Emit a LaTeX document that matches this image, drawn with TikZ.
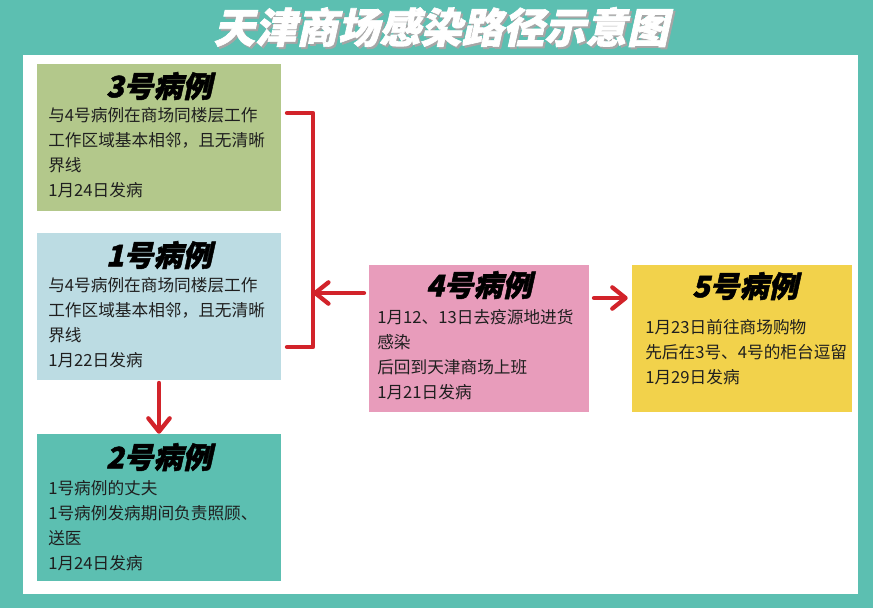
\documentclass[tikz,border=0pt]{standalone}
\usepackage{fontspec}
\setmainfont{Noto Sans CJK SC}
\newfontfamily\headfont{Noto Sans CJK SC}[FakeSlant=0.22, BoldFeatures={FakeBold=1.6}]
\usetikzlibrary{arrows.meta}
\definecolor{bgteal}{HTML}{5CBFB1}
\definecolor{boxgreen}{HTML}{B3C88B}
\definecolor{boxblue}{HTML}{BCDCE3}
\definecolor{boxpink}{HTML}{E89CBB}
\definecolor{boxyellow}{HTML}{F2D24B}
\definecolor{mkred}{HTML}{D2232A}
\begin{document}
\begin{tikzpicture}[x=0.75pt, y=-0.75pt,
  casebox/.style={rectangle, inner sep=0pt, minimum height=110.25pt},
  casetitle/.style={font=\headfont\bfseries\fontsize{22pt}{22pt}\selectfont, text=black},
  casebody/.style={anchor=north west, inner sep=0pt, align=left, font=\fontsize{12.5pt}{18.75pt}\selectfont, text=black!88},
  redline/.style={draw=mkred, line width=3.2pt, line cap=round, line join=round},
  redarrow/.style={redline, -{Straight Barb[length=10pt, width=16pt, round]}}]
  \useasboundingbox (0,0) rectangle (873,608);
  \fill[bgteal] (0,0) rectangle (873,608);
  \fill[white] (23,55) rectangle (858,594);
  \node[font=\headfont\bfseries\fontsize{31pt}{31pt}\selectfont, text=black!35] (titleshade) at (443,29) {天津商场感染路径示意图};
  \node[font=\headfont\bfseries\fontsize{31pt}{31pt}\selectfont, text=white] (title) at (441,27) {天津商场感染路径示意图};
  % case boxes
  \node[casebox, fill=boxgreen, minimum width=183pt] (c3) at (159,137.5) {};
  \node[casebox, fill=boxblue, minimum width=183pt] (c1) at (159,306.5) {};
  \node[casebox, fill=bgteal, minimum width=183pt] (c2) at (159,507.5) {};
  \node[casebox, fill=boxpink, minimum width=165pt] (c4) at (479,338.5) {};
  \node[casebox, fill=boxyellow, minimum width=165pt] (c5) at (742,338.5) {};
  \node[casetitle] (c3t) at (159,86) {3号病例};
  \node[casetitle] (c1t) at (159,255) {1号病例};
  \node[casetitle] (c2t) at (159,457) {2号病例};
  \node[casetitle] (c4t) at (479,285) {4号病例};
  \node[casetitle] (c5t) at (745,286) {5号病例};
  \node[casebody] (c3b) at (48,107) {与4号病例在商场同楼层工作\\工作区域基本相邻，且无清晰\\界线\\1月24日发病};
  \node[casebody] (c1b) at (48,277) {与4号病例在商场同楼层工作\\工作区域基本相邻，且无清晰\\界线\\1月22日发病};
  \node[casebody] (c2b) at (48,480) {1号病例的丈夫\\1号病例发病期间负责照顾、\\送医\\1月24日发病};
  \node[casebody] (c4b) at (377,309) {1月12、13日去疫源地进货\\感染\\后回到天津商场上班\\1月21日发病};
  \node[casebody] (c5b) at (645,319) {1月23日前往商场购物\\先后在3号、4号的柜台逗留\\1月29日发病};
  % connectors
  \coordinate (k3) at (287,113);
  \coordinate (k1) at (287,347);
  \coordinate (kj) at (313,293);
  \coordinate (a4) at (364,293);
  \coordinate (a45) at (594,298);
  \draw[redline] (k3) -- (k3 -| kj) -- (k1 -| kj) -- (k1);
  \draw[redarrow] (a4) -- (kj);
  \draw[redarrow, shorten >=3pt] (a45) -- (c5.west |- a45);
  \draw[redarrow, shorten <=2pt] (c1.south) -- (c2.north);
\end{tikzpicture}
\end{document}
